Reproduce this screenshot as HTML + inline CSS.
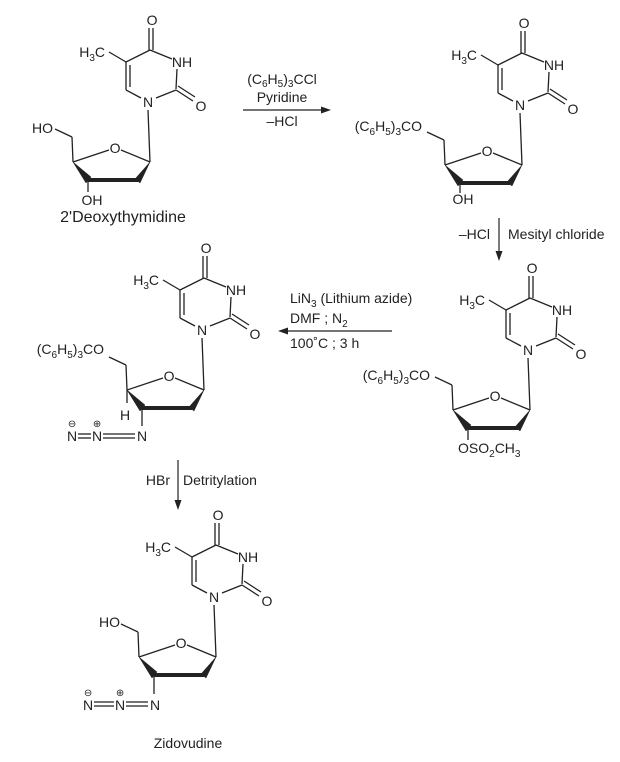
<!DOCTYPE html>
<html><head><meta charset="utf-8">
<style>
html,body{margin:0;padding:0;background:#fff;}
svg{display:block;}
text{font-family:"Liberation Sans",Arial,sans-serif;font-size:14px;fill:#222;}
.s{font-size:10px;}
</style></head><body>
<svg width="620" height="762" viewBox="0 0 620 762" xmlns="http://www.w3.org/2000/svg">
<defs>
<g id="nuc" stroke="#222" stroke-width="1.3" fill="none">
  <line x1="1" y1="-52" x2="1" y2="-74"/><line x1="5" y1="-52" x2="5" y2="-74"/>
  <line x1="2" y1="-52" x2="24" y2="-43"/>
  <line x1="29" y1="-33" x2="28" y2="-13"/>
  <line x1="28" y1="-12" x2="45" y2="-1"/><line x1="30" y1="-16" x2="47" y2="-5"/>
  <line x1="28" y1="-12" x2="8" y2="-4"/>
  <line x1="-7" y1="-4" x2="-22" y2="-12"/>
  <line x1="-22" y1="-12" x2="-22" y2="-40"/><line x1="-18" y1="-15" x2="-18" y2="-37"/>
  <line x1="-22" y1="-40" x2="2" y2="-52"/>
  <line x1="-22" y1="-40" x2="-39" y2="-50"/>
  <line x1="0" y1="8" x2="2" y2="60"/>
  <line x1="2" y1="60" x2="-27" y2="48"/>
  <line x1="-39" y1="48" x2="-75" y2="60"/>
  <line x1="-75" y1="60" x2="-76" y2="35"/>
  <line x1="-76" y1="35" x2="-93" y2="27"/>
  <line x1="-60" y1="78" x2="-10" y2="78" stroke-width="4"/>
  <polygon points="-75,60 -57,75 -62,81" fill="#222" stroke-width="0.5"/>
  <polygon points="2,60 -13,77 -8,81" fill="#222" stroke-width="0.5"/>
</g>
<g id="lab">
  <text x="4" y="-77" text-anchor="middle">O</text>
  <text x="34" y="-35" text-anchor="middle">NH</text>
  <text x="53" y="9" text-anchor="middle">O</text>
  <text x="0" y="5" text-anchor="middle">N</text>
  <text x="-33" y="51" text-anchor="middle">O</text>
  <text x="-43" y="-45" text-anchor="end">H<tspan class="s" dy="4">3</tspan><tspan dy="-4">C</tspan></text>
</g>
</defs>

<!-- S1 -->
<g transform="translate(148,102)">
  <use href="#nuc"/><use href="#lab"/>
  <line x1="-60" y1="78" x2="-60" y2="90" stroke="#222" stroke-width="1.3"/>
  <text x="-95" y="31" text-anchor="end">HO</text>
  <text x="-56" y="103" text-anchor="middle">OH</text>
</g>
<text x="123" y="222" text-anchor="middle" style="font-size:16px">2'Deoxythymidine</text>

<!-- arrow 1 -->
<line x1="243" y1="110" x2="324" y2="110" stroke="#222" stroke-width="1.2"/>
<polygon points="331,110 321,106.5 321,113.5" fill="#222"/>
<text x="282" y="84" text-anchor="middle">(C<tspan class="s" dy="3">6</tspan><tspan dy="-3">H</tspan><tspan class="s" dy="3">5</tspan><tspan dy="-3">)</tspan><tspan class="s" dy="3">3</tspan><tspan dy="-3">CCl</tspan></text>
<text x="282" y="102" text-anchor="middle">Pyridine</text>
<text x="282" y="126" text-anchor="middle">–HCl</text>

<!-- S2 -->
<g transform="translate(520,105)">
  <use href="#nuc"/><use href="#lab"/>
  <line x1="-60" y1="78" x2="-60" y2="88" stroke="#222" stroke-width="1.3"/>
  <text x="-98" y="26" text-anchor="end">(C<tspan class="s" dy="4">6</tspan><tspan dy="-4">H</tspan><tspan class="s" dy="4">5</tspan><tspan dy="-4">)</tspan><tspan class="s" dy="4">3</tspan><tspan dy="-4">CO</tspan></text>
  <text x="-57" y="99" text-anchor="middle">OH</text>
</g>

<!-- arrow 2 -->
<line x1="499" y1="218" x2="499" y2="254" stroke="#222" stroke-width="1.2"/>
<polygon points="499,261 495.5,251 502.5,251" fill="#222"/>
<text x="490" y="239" text-anchor="end">–HCl</text>
<text x="508" y="239">Mesityl chloride</text>

<!-- S3 -->
<g transform="translate(528,350)">
  <use href="#nuc"/><use href="#lab"/>
  <line x1="-60" y1="78" x2="-60" y2="90" stroke="#222" stroke-width="1.3"/>
  <text x="-98" y="30" text-anchor="end">(C<tspan class="s" dy="4">6</tspan><tspan dy="-4">H</tspan><tspan class="s" dy="4">5</tspan><tspan dy="-4">)</tspan><tspan class="s" dy="4">3</tspan><tspan dy="-4">CO</tspan></text>
  <text x="-70" y="103">OSO<tspan class="s" dy="4">2</tspan><tspan dy="-4">CH</tspan><tspan class="s" dy="4">3</tspan></text>
</g>

<!-- arrow 3 -->
<line x1="392" y1="331" x2="285" y2="331" stroke="#222" stroke-width="1.2"/>
<polygon points="278,331 288,327.5 288,334.5" fill="#222"/>
<text x="290" y="303">LiN<tspan class="s" dy="4">3</tspan><tspan dy="-4"> (Lithium azide)</tspan></text>
<text x="290" y="323">DMF ; N<tspan class="s" dy="4">2</tspan></text>
<text x="290" y="348">100˚C ; 3 h</text>

<!-- S4 -->
<g transform="translate(202,330)">
  <use href="#nuc"/><use href="#lab"/>
  <g stroke="#222" stroke-width="1.3">
    <line x1="-75" y1="60" x2="-75" y2="73"/>
    <line x1="-60" y1="78" x2="-60" y2="96"/>
    <line x1="-124" y1="104" x2="-111" y2="104"/><line x1="-124" y1="108" x2="-111" y2="108"/>
    <line x1="-99" y1="104" x2="-67" y2="104"/><line x1="-99" y1="108" x2="-67" y2="108"/>
  </g>
  <text x="-98" y="24" text-anchor="end">(C<tspan class="s" dy="4">6</tspan><tspan dy="-4">H</tspan><tspan class="s" dy="4">5</tspan><tspan dy="-4">)</tspan><tspan class="s" dy="4">3</tspan><tspan dy="-4">CO</tspan></text>
  <text x="-77" y="90" text-anchor="middle">H</text>
  <text x="-130" y="111" text-anchor="middle">N</text>
  <text x="-105" y="111" text-anchor="middle">N</text>
  <text x="-60" y="111" text-anchor="middle">N</text>
  <text x="-130" y="97" text-anchor="middle" class="s">⊖</text>
  <text x="-105" y="97" text-anchor="middle" class="s">⊕</text>
</g>

<!-- arrow 4 -->
<line x1="178" y1="460" x2="178" y2="503" stroke="#222" stroke-width="1.2"/>
<polygon points="178,510 174.5,500 181.5,500" fill="#222"/>
<text x="170" y="485" text-anchor="end">HBr</text>
<text x="183" y="485">Detritylation</text>

<!-- S5 -->
<g transform="translate(214,597)">
  <use href="#nuc"/><use href="#lab"/>
  <g stroke="#222" stroke-width="1.3">
    <line x1="-60" y1="78" x2="-60" y2="97"/>
    <line x1="-120" y1="105" x2="-100" y2="105"/><line x1="-120" y1="109" x2="-100" y2="109"/>
    <line x1="-88" y1="105" x2="-66" y2="105"/><line x1="-88" y1="109" x2="-66" y2="109"/>
  </g>
  <text x="-94" y="30" text-anchor="end">HO</text>
  <text x="-126" y="113" text-anchor="middle">N</text>
  <text x="-94" y="113" text-anchor="middle">N</text>
  <text x="-59" y="113" text-anchor="middle">N</text>
  <text x="-126" y="99" text-anchor="middle" class="s">⊖</text>
  <text x="-94" y="99" text-anchor="middle" class="s">⊕</text>
</g>
<text x="188" y="748" text-anchor="middle">Zidovudine</text>
</svg>
</body></html>
